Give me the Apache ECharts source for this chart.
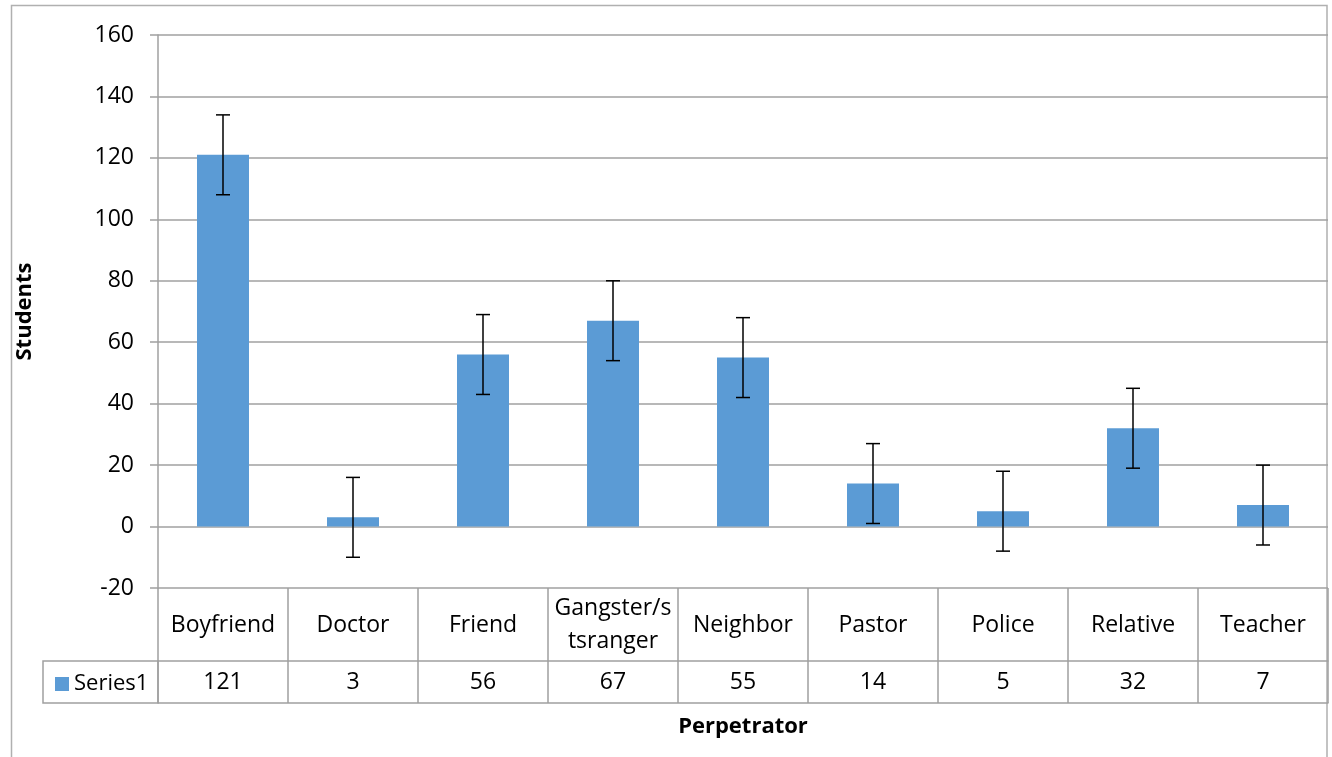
<!DOCTYPE html>
<html>
<head>
<meta charset="utf-8">
<script src="https://cdn.jsdelivr.net/npm/echarts@6/dist/echarts.min.js"></script>
<style>html,body{margin:0;padding:0;background:#fff}#c{width:1332px;height:757px}</style>
</head>
<body>
<div id="c"></div>
<script>
const categories = ['Boyfriend','Doctor','Friend','Gangster/s\ntsranger','Neighbor','Pastor','Police','Relative','Teacher'];
const values = [121, 3, 56, 67, 55, 14, 5, 32, 7];
const errors = [13, 13, 13, 13, 13, 13, 13, 13, 13];
const yTicks = { min: -20, max: 160, interval: 20 };
const seriesName = 'Series1';

const FONT = 'Open Sans';
const LINE = '#a0a0a0';
const chart = echarts.init(document.getElementById('c'), null, { renderer: 'canvas' });

chart.setOption({
  animation: false,
  backgroundColor: '#fff',
  textStyle: { fontFamily: FONT, color: '#000' },
  grid: { left: 158, top: 35, right: 4, bottom: 169, containLabel: false },
  legend: {
    data: [seriesName], left: 50, top: 668, itemWidth: 14, itemHeight: 14, itemGap: 4,
    icon: 'rect', textStyle: { fontFamily: FONT, fontSize: 22, color: '#000' }, selectedMode: false
  },
  yAxis: {
    type: 'value', min: yTicks.min, max: yTicks.max, interval: yTicks.interval,
    name: 'Students', nameLocation: 'middle', nameGap: 122, nameRotate: 90,
    nameTextStyle: { fontFamily: FONT, fontSize: 22, fontWeight: 'bold', color: '#000' },
    axisLine: { show: true, lineStyle: { color: LINE, width: 1.5 } },
    axisTick: { show: true, length: 8, lineStyle: { color: LINE, width: 1.5 } },
    axisLabel: { margin: 24, fontFamily: FONT, fontSize: 23, color: '#000' },
    splitLine: { show: true, lineStyle: { color: LINE, width: 1.5 } }
  },
  xAxis: [
    {
      type: 'category', data: categories, position: 'bottom',
      axisLine: { show: false, onZero: false },
      axisTick: { show: true, length: 115, alignWithLabel: false, lineStyle: { color: LINE, width: 1.5 } },
      axisLabel: { margin: 37, verticalAlign: 'middle', fontFamily: FONT, fontSize: 23, color: '#000', lineHeight: 33, interval: 0 }
    },
    {
      type: 'category', data: values.map(String), position: 'bottom', offset: 73,
      axisLine: { show: true, onZero: false, lineStyle: { color: LINE, width: 1.5 } },
      axisTick: { show: false },
      axisLabel: { margin: 21, verticalAlign: 'middle', fontFamily: FONT, fontSize: 23, color: '#000', interval: 0 }
    },
    {
      type: 'category', data: categories, position: 'bottom', offset: 115,
      name: 'Perpetrator', nameLocation: 'middle', nameGap: 24,
      nameTextStyle: { fontFamily: FONT, fontSize: 22, fontWeight: 'bold', color: '#000', verticalAlign: 'middle' },
      axisLine: { show: true, onZero: false, lineStyle: { color: LINE, width: 1.5 } },
      axisTick: { show: false }, axisLabel: { show: false }
    }
  ],
  series: [
    {
      name: seriesName, type: 'bar', data: values, xAxisIndex: 0,
      barWidth: '40%', itemStyle: { color: '#5B9BD5' }
    },
    {
      name: 'err', type: 'custom', xAxisIndex: 0,
      data: values.map((v, i) => [i, v - errors[i], v + errors[i]]),
      renderItem: function (params, api) {
        const lo = api.coord([api.value(0), api.value(1)]);
        const hi = api.coord([api.value(0), api.value(2)]);
        const x = lo[0], hw = 7;
        const st = { stroke: '#000', lineWidth: 1.5 };
        return {
          type: 'group', children: [
            { type: 'line', shape: { x1: x, y1: lo[1], x2: x, y2: hi[1] }, style: st },
            { type: 'line', shape: { x1: x - hw, y1: lo[1], x2: x + hw, y2: lo[1] }, style: st },
            { type: 'line', shape: { x1: x - hw, y1: hi[1], x2: x + hw, y2: hi[1] }, style: st }
          ]
        };
      },
      z: 5
    }
  ],
  graphic: [
    { type: 'rect', shape: { x: 11.5, y: 5.5, width: 1315.5, height: 800 }, style: { fill: 'none', stroke: '#b0b0b0', lineWidth: 1.5 }, silent: true },
    { type: 'rect', shape: { x: 43, y: 661, width: 115, height: 42 }, style: { fill: 'none', stroke: LINE, lineWidth: 1.5 }, silent: true }
  ]
});
</script>
</body>
</html>
